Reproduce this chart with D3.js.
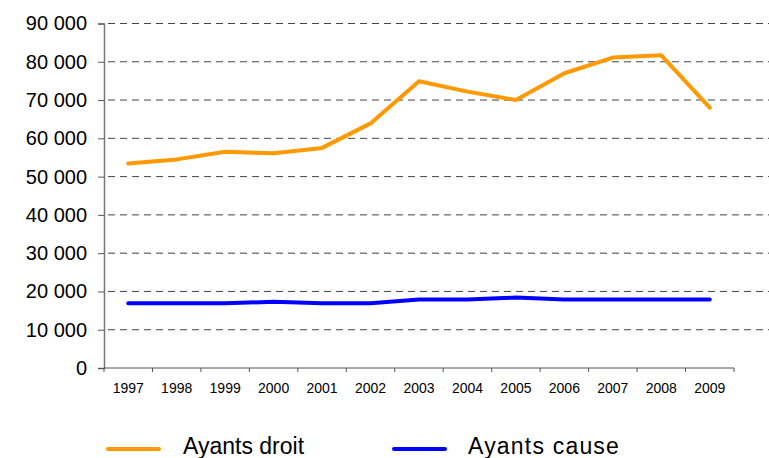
<!DOCTYPE html>
<html>
<head>
<meta charset="utf-8">
<script src="https://cdn.jsdelivr.net/npm/d3@7"></script>
<style>
  body { margin: 0; background: #fff; }
  svg { display: block; font-family: "Liberation Sans", Arial, sans-serif; }
</style>
</head>
<body>
<svg id="chart" width="769" height="458"></svg>
<script>
// data
var years = ["1997", "1998", "1999", "2000", "2001", "2002", "2003",
             "2004", "2005", "2006", "2007", "2008", "2009"];
var ayantsDroit = [53400, 54500, 56500, 56100, 57500, 63900, 74900,
                   72200, 70000, 77000, 81100, 81700, 68000];
var ayantsCause = [16900, 16900, 16900, 17300, 16900, 16900, 17900,
                   17900, 18400, 17900, 17900, 17900, 17900];
var yTicks = [0, 10000, 20000, 30000, 40000, 50000, 60000, 70000, 80000, 90000];
var seriesNames = ["Ayants droit", "Ayants cause"];
var seriesColors = ["#ff9900", "#0000ff"];

var svg = d3.select("#chart");
var plotLeft = 104, plotRight = 734, plotTop = 23.5, plotBottom = 368;

var x = d3.scaleBand().domain(years).range([plotLeft, plotRight]).padding(0);
var y = d3.scaleLinear().domain([0, 90000]).range([plotBottom, plotTop]);

var fr = d3.formatLocale({ decimal: ",", thousands: " ", grouping: [3], currency: ["", ""] });
var fmt = fr.format(",");

// gridlines
svg.append("g").selectAll("line.grid")
    .data(yTicks.filter(function(d) { return d > 0; }))
  .enter().append("line")
    .attr("class", "grid")
    .attr("x1", plotLeft).attr("x2", 769)
    .attr("y1", function(d) { return y(d); })
    .attr("y2", function(d) { return y(d); })
    .attr("stroke", "#444")
    .attr("stroke-width", 1)
    .attr("stroke-dasharray", "7,5")
    .attr("stroke-dashoffset", -4);

// y axis
var yAxis = svg.append("g")
    .attr("transform", "translate(" + plotLeft + ",0)")
    .call(d3.axisLeft(y).tickValues(yTicks).tickFormat(fmt).tickSize(6).tickPadding(11));
yAxis.select(".domain").attr("stroke", "#777").attr("stroke-width", 1.5);
yAxis.selectAll(".tick line").attr("stroke", "#555");
yAxis.selectAll(".tick text")
    .attr("font-size", "20px")
    .attr("fill", "#000")
    .attr("font-family", "'Liberation Sans', Arial, sans-serif");

// x axis
var xg = svg.append("g");
xg.append("line")
    .attr("x1", plotLeft).attr("x2", plotRight)
    .attr("y1", plotBottom).attr("y2", plotBottom)
    .attr("stroke", "#555").attr("stroke-width", 1);
xg.selectAll("line.xt")
    .data(years.map(function(d) { return x(d); }).concat([plotRight]))
  .enter().append("line")
    .attr("class", "xt")
    .attr("x1", function(d) { return d; }).attr("x2", function(d) { return d; })
    .attr("y1", plotBottom).attr("y2", plotBottom + 4)
    .attr("stroke", "#555");
xg.selectAll("text")
    .data(years)
  .enter().append("text")
    .attr("x", function(d) { return x(d) + x.bandwidth() / 2; })
    .attr("y", 393)
    .attr("text-anchor", "middle")
    .attr("font-size", "14px")
    .attr("fill", "#000")
    .text(function(d) { return d; });

// lines
var line = d3.line()
    .x(function(d, i) { return x(years[i]) + x.bandwidth() / 2; })
    .y(function(d) { return y(d); });

[ayantsDroit, ayantsCause].forEach(function(s, i) {
    svg.append("path")
        .datum(s)
        .attr("d", line)
        .attr("fill", "none")
        .attr("stroke", seriesColors[i])
        .attr("stroke-width", 4)
        .attr("stroke-linejoin", "round")
        .attr("stroke-linecap", "round");
});

// legend
var legX = [108, 394];
var leg = svg.selectAll("g.leg")
    .data(seriesNames)
  .enter().append("g")
    .attr("class", "leg")
    .attr("transform", function(d, i) { return "translate(" + legX[i] + ",449)"; });
leg.append("line")
    .attr("x1", 0).attr("x2", 51)
    .attr("stroke", function(d, i) { return seriesColors[i]; })
    .attr("stroke-width", 4)
    .attr("stroke-linecap", "round");
leg.append("text")
    .attr("x", function(d, i) { return i === 0 ? 75 : 74; })
    .attr("y", 5)
    .attr("font-size", "23px")
    .attr("letter-spacing", function(d, i) { return i === 0 ? "0px" : "1.2px"; })
    .attr("fill", "#000")
    .text(function(d) { return d; });
</script>
</body>
</html>
